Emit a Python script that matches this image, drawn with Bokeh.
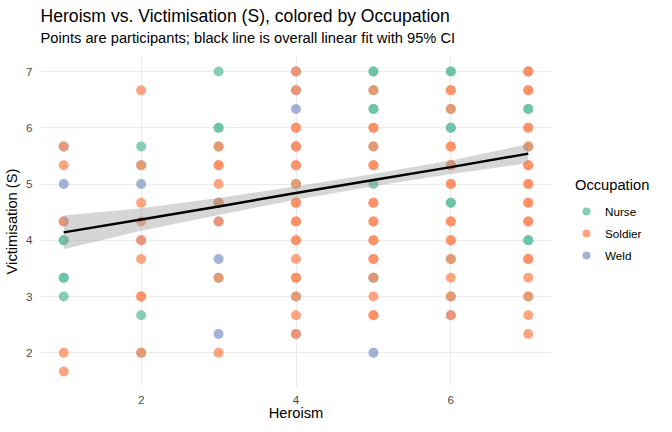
from bokeh.plotting import figure
from bokeh.models import (ColumnDataSource, Legend, LegendItem, Title, Range1d,
                          FixedTicker)
from bokeh.transform import factor_cmap
from bokeh.embed import file_html
from bokeh.resources import INLINE

# ---- data (overlapping points repeated) ----
heroism_levels = [1, 2, 3, 4, 5, 6, 7]

victim_h1 = [5.667, 5.667, 5.333, 5.0, 4.333, 4.333, 4.0, 4.0, 3.333, 3.333, 3.0, 2.0, 1.667]
occ_h1 = ["W", "S", "S", "W", "W", "S", "N", "N", "N", "N", "N", "S", "S"]

victim_h2 = [6.667, 5.667, 5.333, 5.333, 5.0, 4.667, 4.333, 4.0, 4.0, 3.667, 3.0, 3.0, 2.667, 2.0, 2.0]
occ_h2 = ["S", "N", "N", "S", "W", "S", "S", "W", "S", "S", "S", "S", "N", "N", "S"]

victim_h3 = [7.0, 6.0, 6.0, 5.667, 5.667, 5.333, 5.333, 5.0, 4.667, 4.667, 4.667,
             4.333, 4.333, 3.667, 3.333, 3.333, 2.333, 2.0]
occ_h3 = ["N", "N", "N", "N", "S", "S", "S", "S", "W", "N", "S",
          "W", "S", "W", "N", "S", "W", "S"]

victim_h4 = [7.0, 7.0, 6.667, 6.667, 6.333, 6.0, 6.0, 5.667, 5.667, 5.667, 5.333, 5.333,
             5.0, 5.0, 4.667, 4.667, 4.333, 4.333, 4.0, 4.0, 3.667, 3.333, 3.333,
             3.0, 3.0, 2.667, 2.333, 2.333]
occ_h4 = ["W", "S", "W", "S", "W", "S", "S", "N", "S", "S", "S", "S",
          "N", "S", "S", "S", "S", "S", "S", "S", "S", "S", "S",
          "N", "S", "S", "W", "S"]

victim_h5 = [7.0, 7.0, 6.667, 6.667, 6.333, 6.333, 6.0, 6.0, 5.667, 5.667, 5.333, 5.333,
             5.0, 4.667, 4.667, 4.333, 4.333, 4.0, 4.0, 3.667, 3.667, 3.333, 3.333, 3.333,
             3.0, 2.667, 2.667, 2.0]
occ_h5 = ["N", "N", "N", "S", "N", "N", "S", "S", "N", "S", "S", "S",
          "N", "S", "S", "S", "S", "S", "S", "S", "S", "W", "N", "S",
          "S", "S", "S", "W"]

victim_h6 = [7.0, 7.0, 6.667, 6.667, 6.333, 6.333, 6.0, 6.0, 5.667, 5.667, 5.333, 5.333, 5.333,
             5.0, 5.0, 4.667, 4.667, 4.333, 4.333, 4.0, 4.0, 3.667, 3.667, 3.333,
             3.0, 3.0, 2.667, 2.667]
occ_h6 = ["N", "N", "S", "S", "N", "S", "N", "N", "S", "S", "W", "S", "S",
          "S", "S", "N", "N", "S", "S", "S", "S", "N", "S", "S",
          "N", "S", "W", "S"]

victim_h7 = [7.0, 7.0, 7.0, 6.667, 6.667, 6.333, 6.333, 6.0, 6.0, 5.667, 5.667, 5.333, 5.333,
             5.0, 5.0, 4.667, 4.667, 4.333, 4.333, 4.0, 4.0, 3.667, 3.667, 3.333,
             3.0, 3.0, 2.667, 2.333]
occ_h7 = ["N", "S", "S", "S", "S", "N", "N", "S", "S", "N", "S", "S", "S",
          "S", "S", "S", "S", "S", "S", "N", "N", "S", "S", "S",
          "N", "S", "S", "S"]

occupations = ["Nurse", "Soldier", "Weld"]
occ_names = {"N": "Nurse", "S": "Soldier", "W": "Weld"}
palette = ["#66C2A5", "#FC8D62", "#8DA0CB"]

# overall linear fit and 95% CI
fit_x = [1, 2, 3, 4, 5, 6, 7]
fit_y = [4.14, 4.37, 4.60, 4.84, 5.07, 5.30, 5.54]
ci_lower = [3.84, 4.17, 4.45, 4.72, 4.96, 5.18, 5.37]
ci_upper = [4.44, 4.57, 4.75, 4.96, 5.18, 5.42, 5.71]

x_ticks = [2, 4, 6]
y_ticks = [2, 3, 4, 5, 6, 7]

title_text = "Heroism vs. Victimisation (S), colored by Occupation"
subtitle_text = "Points are participants; black line is overall linear fit with 95% CI"

# ---- assemble ----
victims = [victim_h1, victim_h2, victim_h3, victim_h4, victim_h5, victim_h6, victim_h7]
occs = [occ_h1, occ_h2, occ_h3, occ_h4, occ_h5, occ_h6, occ_h7]
xs, ys, os_ = [], [], []
for h, vv, oo in zip(heroism_levels, victims, occs):
    for v, o in zip(vv, oo):
        xs.append(h)
        ys.append(v)
        os_.append(occ_names[o])
src = ColumnDataSource(dict(x=xs, y=ys, occ=os_))
band = ColumnDataSource(dict(x=fit_x, lo=ci_lower, hi=ci_upper, y=fit_y))

FONT = "Liberation Sans"

p = figure(frame_width=511, frame_height=330, title=None,
           x_range=Range1d(0.7, 7.3), y_range=Range1d(1.4, 7.267),
           output_backend="svg", toolbar_location=None,
           min_border_left=0, min_border_right=0,
           min_border_top=0, min_border_bottom=0)
p.outline_line_color = None
p.background_fill_color = "white"
p.border_fill_color = "white"

p.xgrid.ticker = FixedTicker(ticks=x_ticks)
p.ygrid.ticker = FixedTicker(ticks=y_ticks)
for g in (p.xgrid, p.ygrid):
    g.grid_line_color = "#EBEBEB"
    g.grid_line_width = 1.1

p.xaxis.ticker = FixedTicker(ticks=x_ticks)
p.yaxis.ticker = FixedTicker(ticks=y_ticks)
for ax in (p.xaxis, p.yaxis):
    ax.axis_line_color = None
    ax.major_tick_line_color = None
    ax.minor_tick_line_color = None
    ax.major_tick_out = 0
    ax.major_tick_in = 0
    ax.major_label_text_font = FONT
    ax.major_label_text_font_size = "11.7px"
    ax.major_label_text_color = "#4D4D4D"
    ax.axis_label_text_font = FONT
    ax.axis_label_text_font_size = "14.7px"
    ax.axis_label_text_font_style = "normal"
    ax.axis_label_text_color = "black"
p.xaxis.axis_label = "Heroism"
p.yaxis.axis_label = "Victimisation (S)"
p.xaxis.major_label_standoff = 9
p.yaxis.major_label_standoff = 8
p.xaxis.axis_label_standoff = -2
p.yaxis.axis_label_standoff = 3

r = p.scatter("x", "y", source=src, size=10, line_color=None, fill_alpha=0.8,
              fill_color=factor_cmap("occ", palette=palette, factors=occupations))

p.varea(x="x", y1="lo", y2="hi", source=band, fill_color="#999999", fill_alpha=0.4)
p.line(x="x", y="y", source=band, line_color="black", line_width=2.5)

items = [LegendItem(label=o, renderers=[r], index=os_.index(o)) for o in occupations]
legend = Legend(items=items, title="Occupation", location=(24, 121),
                title_text_font=FONT, title_text_font_size="14.7px",
                title_text_font_style="normal", title_text_color="black",
                label_text_font=FONT, label_text_font_size="11.7px",
                label_text_color="black",
                border_line_color=None, background_fill_color=None,
                glyph_width=22, glyph_height=20, label_height=20,
                label_standoff=8, spacing=2, margin=0, padding=10,
                title_standoff=8)
p.add_layout(legend, "right")

p.add_layout(Title(text=subtitle_text, text_font=FONT, text_font_size="14.7px",
                   text_font_style="normal", text_color="black",
                   align="left", standoff=21), "above")
p.add_layout(Title(text=title_text, text_font=FONT, text_font_size="17.6px",
                   text_font_style="normal", text_color="black",
                   align="left", standoff=-16), "above")
# empty spacer above the titles
p.add_layout(Title(text=" ", text_font=FONT, text_font_size="1px",
                   align="left", standoff=8), "above")

open("out.html", "w").write(file_html(p, INLINE))
